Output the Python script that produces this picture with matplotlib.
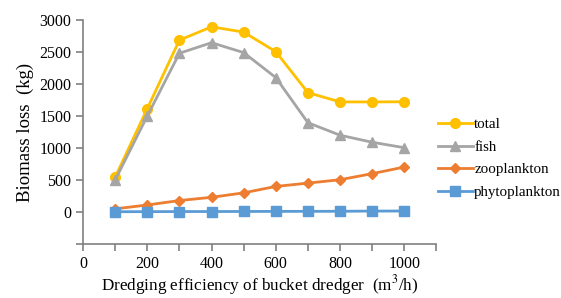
import matplotlib
matplotlib.use("Agg")
import matplotlib.pyplot as plt
from matplotlib.ticker import MultipleLocator, FuncFormatter

plt.rcParams['font.family'] = ['Liberation Serif', 'DejaVu Serif']
plt.rcParams['mathtext.fontset'] = 'stix'

# data
efficiency = [100, 200, 300, 400, 500, 600, 700, 800, 900, 1000]
total = [545, 1615, 2685, 2893, 2810, 2505, 1865, 1720, 1720, 1722]
fish = [500, 1500, 2480, 2645, 2490, 2100, 1395, 1200, 1090, 1005]
zooplankton = [50, 110, 180, 230, 300, 400, 452, 505, 600, 703]
phytoplankton = [5, 6, 8, 8, 9, 10, 11, 12, 15, 16]

fig = plt.figure(figsize=(5.61, 2.98), dpi=100)
ax = fig.add_axes([0.148, 0.181, 0.63, 0.752])

ax.plot(efficiency, total, color='#FFC000', marker='o', markersize=7, lw=2, label='total')
ax.plot(efficiency, fish, color='#A5A5A5', marker='^', markersize=7, lw=2, label='fish')
ax.plot(efficiency, zooplankton, color='#ED7D31', marker='D', markersize=5, lw=2, label='zooplankton')
ax.plot(efficiency, phytoplankton, color='#5B9BD5', marker='s', markersize=7, lw=2, label='phytoplankton')

ax.set_xlim(0, 1100)
ax.set_ylim(-500, 3000)
ax.xaxis.set_major_locator(MultipleLocator(100))
ax.xaxis.set_major_formatter(FuncFormatter(lambda v, p: f"{int(v)}" if v % 200 == 0 and v <= 1000 else ""))
ax.yaxis.set_major_locator(MultipleLocator(500))
ax.yaxis.set_major_formatter(FuncFormatter(lambda v, p: f"{int(v)}" if v >= 0 else ""))

for s in ['top', 'right']:
    ax.spines[s].set_visible(False)
for s in ['left', 'bottom']:
    ax.spines[s].set_color('#808080')
    ax.spines[s].set_linewidth(1.2)
ax.tick_params(axis='both', colors='#808080', labelcolor='black', labelsize=11.5, length=5, width=1.2)

ax.set_xlabel("Dredging efficiency of bucket dredger  (m$^3$/h)", fontsize=12.3, labelpad=1)
ax.set_ylabel("Biomass loss  (kg)", fontsize=13.5, labelpad=4)

fig.legend(loc='upper left', bbox_to_anchor=(0.757, 0.65), frameon=False,
           fontsize=10.8, handlelength=2.3, handletextpad=0.1, labelspacing=0.6)

fig.savefig("out.png", dpi=100)
